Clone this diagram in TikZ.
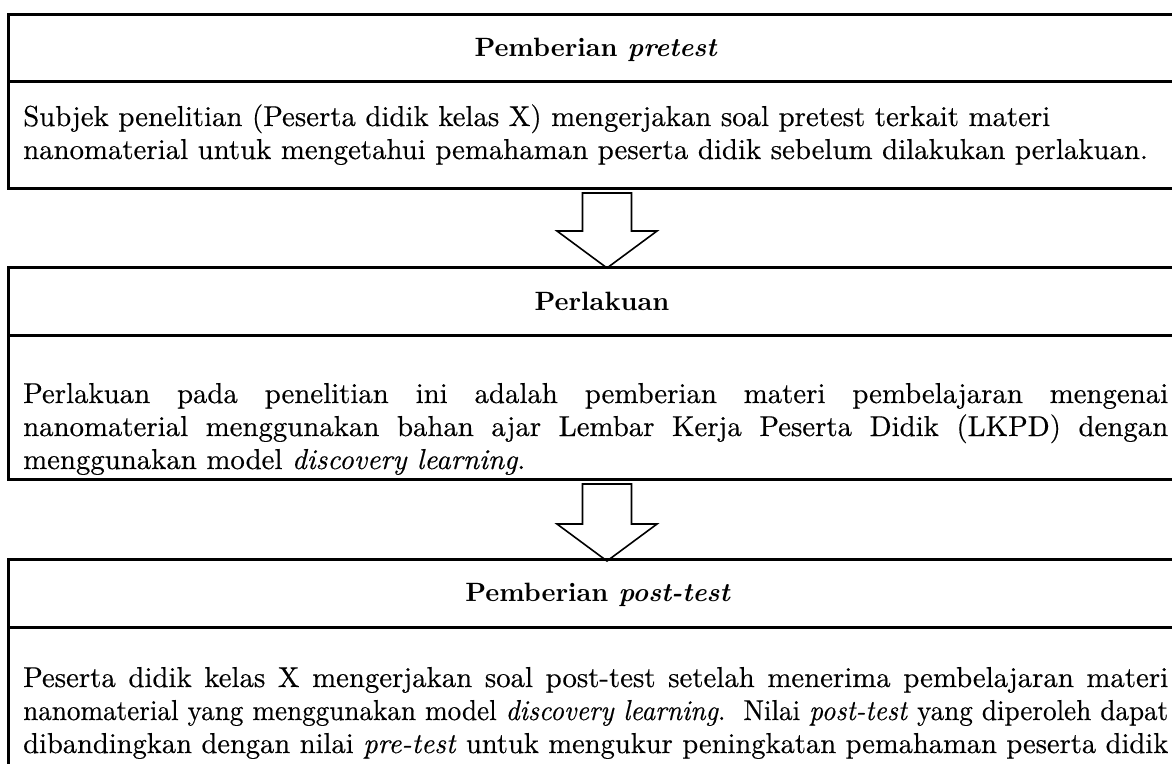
\documentclass[tikz,border=0pt]{standalone}
\usepackage{graphicx}
\usepackage{fontspec}
\setmainfont{lmroman10}[Extension=.otf, UprightFont=*-regular, BoldFont=*-bold, ItalicFont=*-italic, BoldItalicFont=*-bolditalic, UprightFeatures={FakeBold=0.4}, ItalicFeatures={FakeBold=0.4}]
\usetikzlibrary{calc}
\newsavebox\jlinebox
\newcommand{\fitline}[2]{%
  \sbox\jlinebox{#2}%
  \ifdim\wd\jlinebox>#1\relax
    \resizebox{#1}{\height}{\usebox\jlinebox}%
  \else
    \hbox to #1{#2}%
  \fi}
\begin{document}
\begin{tikzpicture}[x=1pt,y=-1pt,
  frame/.style={draw, line width=3pt, rectangle, outer sep=0pt, inner sep=0pt, anchor=north west, minimum width=1260pt},
  divider/.style={line width=3pt},
  blockarrow/.style={draw, line width=1.6pt, line join=miter, fill=white},
  headtext/.style={font=\fontsize{26.5}{26.5}\selectfont\bfseries, anchor=base, inner sep=0pt},
  bodytext/.style={font=\fontsize{28.8}{29}\selectfont, anchor=base west, inner sep=0pt}]
\useasboundingbox (0,0) rectangle (1172,763);
\clip (0,0) rectangle (1172,763);

% arrows
\coordinate (a1top) at (607,193);
\coordinate (a1tip) at (607,268);
\coordinate (a2top) at (607,484);
\coordinate (a2tip) at (607,561);
\draw[blockarrow] ($(a1top)+(-24.5,0)$) -- ($(a1top)+(24.5,0)$) -- ($(a1tip)+(24.5,-37)$) -- ($(a1tip)+(50,-37)$) -- (a1tip) -- ($(a1tip)+(-50,-37)$) -- ($(a1tip)+(-24.5,-37)$) -- cycle;
\draw[blockarrow] ($(a2top)+(-24.5,0)$) -- ($(a2top)+(24.5,0)$) -- ($(a2tip)+(24.5,-37)$) -- ($(a2tip)+(50,-37)$) -- (a2tip) -- ($(a2tip)+(-50,-37)$) -- ($(a2tip)+(-24.5,-37)$) -- cycle;

% boxes
\node[frame, minimum height=174pt] (b1) at (8,14) {};
\node[frame, minimum height=212pt] (b2) at (8,267) {};
\node[frame, minimum height=300pt] (b3) at (8,559) {};
\draw[divider] (8,81) -- (1270,81);
\draw[divider] (8,335) -- (1270,335);
\draw[divider] (8,627) -- (1270,627);

% headers
\node[headtext] (h1) at (596,56) {Pemberian \textit{pretest}};
\node[headtext] (h2) at (602,310) {Perlakuan};
\node[headtext] (h3) at (598,601) {Pemberian \textit{post-test}};

% box 1 text
\node[bodytext] (t11) at (23,126) {Subjek penelitian (Peserta didik kelas X) mengerjakan soal pretest terkait materi};
\node[bodytext] (t12) at (23,159) {nanomaterial untuk mengetahui pemahaman peserta didik sebelum dilakukan perlakuan.};

% box 2 text
\node[bodytext] (t21) at (23,403) {\fitline{1145pt}{Perlakuan pada penelitian ini adalah pemberian materi pembelajaran mengenai}};
\node[bodytext] (t22) at (23,436) {\fitline{1145pt}{nanomaterial menggunakan bahan ajar Lembar Kerja Peserta Didik (LKPD) dengan}};
\node[bodytext] (t23) at (23,469) {menggunakan model \textit{discovery learning}.};

% box 3 text
\node[bodytext] (t31) at (23,687) {\fitline{1145pt}{Peserta didik kelas X mengerjakan soal post-test setelah menerima pembelajaran materi}};
\node[bodytext] (t32) at (23,720) {\fitline{1145pt}{nanomaterial yang menggunakan model \textit{discovery learning}.\ \ Nilai \textit{post-test} yang diperoleh dapat}};
\node[bodytext] (t33) at (23,753) {\fitline{1145pt}{dibandingkan dengan nilai \textit{pre-test} untuk mengukur peningkatan pemahaman peserta didik}};
\end{tikzpicture}
\end{document}
